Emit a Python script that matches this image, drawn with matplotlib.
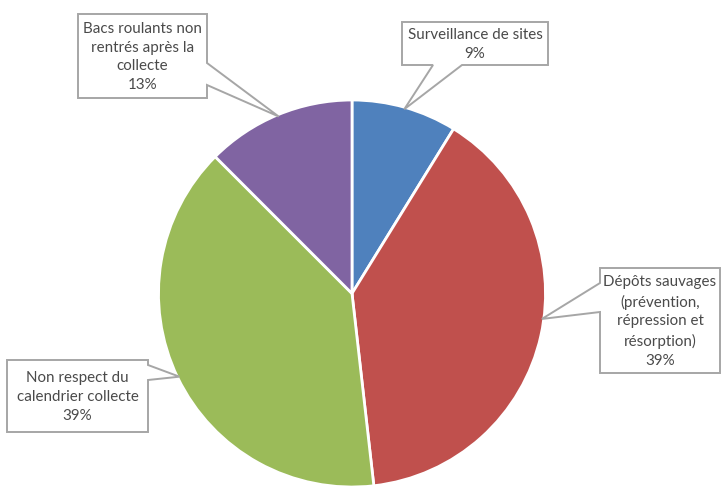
import numpy as np
import matplotlib
matplotlib.use('Agg')
import matplotlib.pyplot as plt
from matplotlib.patches import Polygon

# parts of the pie, clockwise from 12 o'clock
labels = ['Surveillance de sites',
          'Dépôts sauvages\n(prévention,\nrépression et\nrésorption)',
          'Non respect du\ncalendrier collecte',
          'Bacs roulants non\nrentrés après la\ncollecte']
values = [8.8, 39.4, 39.3, 12.5]
colors = ['#4F81BD', '#C0504D', '#9BBB59', '#8064A2']

W, H = 723, 486
fig = plt.figure(figsize=(W / 100, H / 100), dpi=100)
ax = fig.add_axes([0, 0, 1, 1])

# work in pixel units (y measured from bottom)
cx, cy, r = 352, H - 293.5, 193.5
wedges, _ = ax.pie(values, colors=colors, startangle=90, counterclock=False,
                   center=(cx, cy), radius=r,
                   wedgeprops=dict(edgecolor='white', linewidth=2))
ax.set_xlim(0, W)
ax.set_ylim(0, H)
ax.set_aspect('auto')
ax.axis('off')

# callout boxes: (x0, y0top, x1, y1bottom), side of notch, notch span, where the tip sits in the wedge
boxes = [
    ((402, 22, 548, 65), 'bottom', (433, 462), 0.5),
    ((600, 268, 720, 373), 'left', (283, 312), 0.465),
    ((7, 360, 148, 432), 'right', (365, 380), 0.5),
    ((78, 14, 207, 98), 'right', (63, 85), 0.5),
]


def callout(box, side, span, tip):
    x0, y0, x1, y1 = box
    tx, ty = tip
    a, b = span
    if side == 'bottom':
        pts = [(x0, y0), (x1, y0), (x1, y1), (b, y1), (tx, ty), (a, y1), (x0, y1)]
    elif side == 'left':
        pts = [(x0, y0), (x1, y0), (x1, y1), (x0, y1), (x0, b), (tx, ty), (x0, a)]
    else:
        pts = [(x0, y0), (x1, y0), (x1, a), (tx, ty), (x1, b), (x1, y1), (x0, y1)]
    return [(px, H - py) for px, py in pts]


total = sum(values)
for w, lab, val, (box, side, span, frac) in zip(wedges, labels, values, boxes):
    ang = np.deg2rad(w.theta2 - frac * (w.theta2 - w.theta1))
    tip = (cx + 0.99 * r * np.cos(ang), H - (cy + 0.99 * r * np.sin(ang)))
    poly = Polygon(callout(box, side, span, tip), closed=True, facecolor='white',
                   edgecolor='#A6A6A6', linewidth=1.4, zorder=5)
    ax.add_patch(poly)
    pct = int(val / total * 100 + 0.5)
    x0, y0, x1, y1 = box
    ax.text((x0 + x1) / 2, H - (y0 + y1) / 2 - 1, f'{lab}\n{pct}%',
            ha='center', va='center', fontsize=10.9, family='Lato',
            color='#4a4a4a', linespacing=1.45, zorder=6)

fig.savefig('out.png', dpi=100)
